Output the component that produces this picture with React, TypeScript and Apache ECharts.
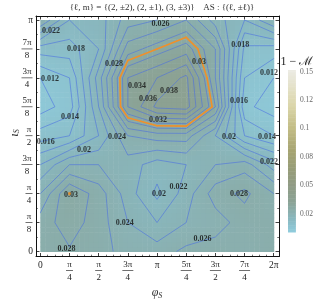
import React, { useEffect, useRef } from "react";
import * as echarts from "echarts";

// 1 - M on a grid: rows iota_S = k*pi/8 (k = 0..8), columns phi_S = j*pi/4 (j = 0..8)
const iota0 = [0.0275, 0.0278, 0.027, 0.025, 0.025, 0.0265, 0.027, 0.026, 0.0275];
const iota1 = [0.027, 0.029, 0.027, 0.024, 0.022, 0.024, 0.025, 0.027, 0.027];
const iota2 = [0.024, 0.03, 0.027, 0.023, 0.0195, 0.023, 0.027, 0.0285, 0.026];
const iota3 = [0.02, 0.024, 0.024, 0.023, 0.021, 0.022, 0.024, 0.025, 0.021];
const iota4 = [0.015, 0.016, 0.02, 0.026, 0.027, 0.027, 0.022, 0.016, 0.014];
const iota5 = [0.011, 0.013, 0.022, 0.034, 0.0385, 0.039, 0.03, 0.0125, 0.011];
const iota6 = [0.012, 0.014, 0.023, 0.034, 0.036, 0.0385, 0.028, 0.014, 0.012];
const iota7 = [0.017, 0.017, 0.02, 0.029, 0.031, 0.033, 0.028, 0.0155, 0.015];
const iota8 = [0.026, 0.02, 0.021, 0.025, 0.026, 0.028, 0.023, 0.02, 0.024];

const contourLevels = [0.012, 0.014, 0.016, 0.018, 0.02, 0.022, 0.024, 0.026, 0.028, 0.03, 0.032, 0.034, 0.036, 0.038];
const highlightLevel = 0.031;

// contour labels (phi in pi/4 units, iota in pi/8 units)
const labelPhi = [0.37, 4.12, 1.22, 2.53, 5.44, 6.85, 0.33, 7.84, 3.31, 3.69, 4.41, 1.02, 4.03, 6.81, 0.19, 1.5, 2.63, 6.47, 7.77, 7.84, 1.05, 4.74, 4.07, 6.81, 2.89, 5.56, 0.9];
const labelIota = [7.63, 7.89, 7.0, 6.5, 6.58, 7.14, 5.98, 6.18, 5.72, 5.29, 5.58, 4.68, 4.57, 5.21, 3.79, 3.51, 3.97, 3.99, 3.99, 3.1, 1.98, 2.26, 1.99, 1.99, 1.0, 0.46, 0.11];
const labelValue = [0.022, 0.026, 0.018, 0.028, 0.03, 0.018, 0.012, 0.012, 0.034, 0.036, 0.038, 0.014, 0.032, 0.016, 0.016, 0.02, 0.024, 0.02, 0.014, 0.022, 0.03, 0.022, 0.02, 0.028, 0.024, 0.026, 0.028];

const markerPoint = [[1, 2]];

const phiTicks = [0, 1, 2, 3, 4, 5, 6, 7, 8];
const phiTickLabels = ["0", "π/4", "π/2", "3π/4", "π", "5π/4", "3π/2", "7π/4", "2π"];
const iotaTicks = [0, 1, 2, 3, 4, 5, 6, 7, 8];
const iotaTickLabels = ["0", "π/8", "π/4", "3π/8", "π/2", "5π/8", "3π/4", "7π/8", "π"];

const colorbarRange = [0.0083, 0.151];
const colorbarTicks = [0.025, 0.05, 0.075, 0.1, 0.125, 0.15];
const colorbarTickLabels = ["0.02", "0.05", "0.08", "0.1", "0.12", "0.15"];

const GRIDV = [iota0, iota1, iota2, iota3, iota4, iota5, iota6, iota7, iota8];
const NR = GRIDV.length;
const NC = GRIDV[0].length;

const SERIF = '"Liberation Serif", "DejaVu Serif", serif';

const colorStops: [number, number[]][] = [
  [0.0083, [144, 205, 222]],
  [0.02, [137, 184, 192]],
  [0.035, [139, 163, 150]],
  [0.05, [144, 155, 132]],
  [0.065, [151, 157, 120]],
  [0.08, [166, 164, 114]],
  [0.1, [194, 188, 133]],
  [0.12, [219, 214, 170]],
  [0.151, [236, 235, 228]],
];

function colorFor(v: number): string {
  if (v <= colorStops[0][0]) return `rgb(${colorStops[0][1].join(",")})`;
  for (let k = 0; k < colorStops.length - 1; k++) {
    const [a, ca] = colorStops[k];
    const [b, cb] = colorStops[k + 1];
    if (v <= b) {
      const t = (v - a) / (b - a);
      const c = ca.map((x, idx) => Math.round(x + t * (cb[idx] - x)));
      return `rgb(${c.join(",")})`;
    }
  }
  return `rgb(${colorStops[colorStops.length - 1][1].join(",")})`;
}

function bilinear(j: number, i: number, fx: number, fy: number): number {
  const a = GRIDV[i][j];
  const b = GRIDV[i][j + 1];
  const c = GRIDV[i + 1][j + 1];
  const d = GRIDV[i + 1][j];
  return a * (1 - fx) * (1 - fy) + b * fx * (1 - fy) + c * fx * fy + d * (1 - fx) * fy;
}

function contourSegments(level: number): number[][] {
  const segs: number[][] = [];
  const cross = (v1: number, v2: number, p1: number[], p2: number[]) => {
    if ((v1 >= level) === (v2 >= level)) return null;
    const t = (level - v1) / (v2 - v1);
    return [p1[0] + t * (p2[0] - p1[0]), p1[1] + t * (p2[1] - p1[1])];
  };
  for (let i = 0; i < NR - 1; i++) {
    for (let j = 0; j < NC - 1; j++) {
      const a = GRIDV[i][j];
      const b = GRIDV[i][j + 1];
      const c = GRIDV[i + 1][j + 1];
      const d = GRIDV[i + 1][j];
      const pB = cross(a, b, [j, i], [j + 1, i]);
      const pR = cross(b, c, [j + 1, i], [j + 1, i + 1]);
      const pT = cross(c, d, [j + 1, i + 1], [j, i + 1]);
      const pL = cross(d, a, [j, i + 1], [j, i]);
      const found = [pB, pR, pT, pL].filter((p) => p) as number[][];
      if (found.length === 2) {
        segs.push([found[0][0], found[0][1], found[1][0], found[1][1]]);
      } else if (found.length === 4) {
        const center = (a + b + c + d) / 4;
        if ((center >= level) === (a >= level)) {
          segs.push([pB![0], pB![1], pR![0], pR![1]]);
          segs.push([pT![0], pT![1], pL![0], pL![1]]);
        } else {
          segs.push([pL![0], pL![1], pB![0], pB![1]]);
          segs.push([pR![0], pR![1], pT![0], pT![1]]);
        }
      }
    }
  }
  return segs;
}

const X_MIN = -0.147;
const X_MAX = 8.18;
const Y_MIN = -0.173;
const Y_MAX = 8.138;

function fracText(s: string): string {
  if (!s.includes("/")) return `{w|${s}}`;
  const [n, d] = s.split("/");
  const sz = n.length > 1 ? "L" : "S";
  return `{n${sz}|${n}}\n{bar${sz}| }\n{d${sz}|${d}}`;
}

const fracRich = {
  w: { fontSize: 9.5, fontFamily: SERIF, color: "#222" },
  nS: { fontSize: 9, lineHeight: 9, width: 8, align: "center", fontFamily: SERIF, color: "#222" },
  dS: { fontSize: 9, lineHeight: 9, width: 8, align: "center", fontFamily: SERIF, color: "#222" },
  barS: { fontSize: 1, width: 7, height: 0.7, lineHeight: 4, backgroundColor: "#333", align: "center" },
  nL: { fontSize: 9, lineHeight: 9, width: 12, align: "center", fontFamily: SERIF, color: "#222" },
  dL: { fontSize: 9, lineHeight: 9, width: 12, align: "center", fontFamily: SERIF, color: "#222" },
  barL: { fontSize: 1, width: 11, height: 0.7, lineHeight: 4, backgroundColor: "#333", align: "center" },
};

function minorList(step: number): number[] {
  const out: number[] = [];
  for (let v = 0; v <= 8 + 1e-9; v += step) {
    if (Math.abs(v - Math.round(v)) > 1e-9) out.push(Number(v.toFixed(4)));
  }
  return out;
}

export default function App() {
  const ref = useRef<HTMLDivElement>(null);

  useEffect(() => {
    if (!ref.current) return;
    const chart = echarts.init(ref.current, undefined, { renderer: "svg" });

    const cells: number[][] = [];
    for (let i = 0; i < NR - 1; i++) for (let j = 0; j < NC - 1; j++) cells.push([j, i]);

    const cbSlices = 120;
    const cbData: number[][] = [];
    for (let k = 0; k < cbSlices; k++) cbData.push([0.5, colorbarRange[0] + ((k + 0.5) * (colorbarRange[1] - colorbarRange[0])) / cbSlices]);

    const frameLine = { show: true, onZero: false, lineStyle: { color: "#111", width: 1 } };
    const majorTick = (vals: number[]) => ({ show: true, inside: true, length: 3.5, customValues: vals, lineStyle: { color: "#111", width: 0.8 } });
    const minorTick = (vals: number[]) => ({ show: true, inside: true, length: 1.8, customValues: vals, lineStyle: { color: "#111", width: 0.6 } });

    const phiMinor = minorList(0.25);
    const iotaMinor = minorList(0.5);

    const option: any = {
      animation: false,
      grid: [
        { left: 36, top: 16, width: 243, height: 240.5 },
        { left: 36, top: 16, width: 243, height: 240.5 },
        { left: 288, top: 70, width: 8, height: 162 },
      ],
      xAxis: [
        {
          gridIndex: 0, type: "value", min: X_MIN, max: X_MAX, position: "bottom",
          axisLine: frameLine, axisTick: majorTick(phiTicks), splitLine: { show: false },
          axisLabel: {
            customValues: phiTicks, margin: 3, rich: fracRich,
            formatter: (v: number) => fracText(phiTickLabels[phiTicks.indexOf(Math.round(v))] ?? ""),
          },
        },
        {
          gridIndex: 0, type: "value", min: X_MIN, max: X_MAX, position: "top",
          axisLine: frameLine, axisTick: majorTick(phiTicks), splitLine: { show: false }, axisLabel: { show: false },
        },
        {
          gridIndex: 1, type: "value", min: X_MIN, max: X_MAX, position: "bottom",
          axisLine: { show: false, onZero: false }, axisTick: minorTick(phiMinor), splitLine: { show: false }, axisLabel: { show: false },
        },
        {
          gridIndex: 1, type: "value", min: X_MIN, max: X_MAX, position: "top",
          axisLine: { show: false, onZero: false }, axisTick: minorTick(phiMinor), splitLine: { show: false }, axisLabel: { show: false },
        },
        { gridIndex: 2, type: "value", min: 0, max: 1, show: false },
      ],
      yAxis: [
        {
          gridIndex: 0, type: "value", min: Y_MIN, max: Y_MAX, position: "left",
          axisLine: frameLine, axisTick: majorTick(iotaTicks), splitLine: { show: false },
          axisLabel: {
            customValues: iotaTicks, margin: 3, rich: fracRich,
            formatter: (v: number) => fracText(iotaTickLabels[iotaTicks.indexOf(Math.round(v))] ?? ""),
          },
        },
        {
          gridIndex: 0, type: "value", min: Y_MIN, max: Y_MAX, position: "right",
          axisLine: frameLine, axisTick: majorTick(iotaTicks), splitLine: { show: false }, axisLabel: { show: false },
        },
        {
          gridIndex: 1, type: "value", min: Y_MIN, max: Y_MAX, position: "left",
          axisLine: { show: false, onZero: false }, axisTick: minorTick(iotaMinor), splitLine: { show: false }, axisLabel: { show: false },
        },
        {
          gridIndex: 1, type: "value", min: Y_MIN, max: Y_MAX, position: "right",
          axisLine: { show: false, onZero: false }, axisTick: minorTick(iotaMinor), splitLine: { show: false }, axisLabel: { show: false },
        },
        {
          gridIndex: 2, type: "value", min: colorbarRange[0], max: colorbarRange[1], position: "right",
          axisLine: { show: false }, axisTick: { show: false }, splitLine: { show: false },
          axisLabel: {
            customValues: colorbarTicks, margin: 4, fontSize: 7.5, fontFamily: SERIF, color: "#666",
            formatter: (v: number) => {
              const k = colorbarTicks.findIndex((t) => Math.abs(t - v) < 1e-9);
              return k >= 0 ? colorbarTickLabels[k] : "";
            },
          },
        },
      ],
      series: [
        {
          type: "custom", xAxisIndex: 0, yAxisIndex: 0, z: 1, silent: true,
          data: cells,
          renderItem: (params: any, api: any) => {
            const j = api.value(0);
            const i = api.value(1);
            const N = 6;
            const children: any[] = [];
            for (let s = 0; s < N; s++) {
              for (let t = 0; t < N; t++) {
                const v = bilinear(j, i, (s + 0.5) / N, (t + 0.5) / N);
                const p0 = api.coord([j + s / N, i + t / N]);
                const p1 = api.coord([j + (s + 1) / N, i + (t + 1) / N]);
                children.push({
                  type: "rect",
                  shape: { x: p0[0], y: p1[1], width: p1[0] - p0[0] + 0.5, height: p0[1] - p1[1] + 0.5 },
                  style: { fill: colorFor(v) },
                });
              }
            }
            return { type: "group", children };
          },
        },
        {
          type: "custom", xAxisIndex: 0, yAxisIndex: 0, z: 2, silent: true,
          data: contourLevels.map((l) => [l, l]),
          renderItem: (params: any, api: any) => {
            const level = contourLevels[params.dataIndex];
            const segs = contourSegments(level);
            return {
              type: "group",
              children: segs.map((sg) => {
                const a = api.coord([sg[0], sg[1]]);
                const b = api.coord([sg[2], sg[3]]);
                return {
                  type: "line",
                  shape: { x1: a[0], y1: a[1], x2: b[0], y2: b[1] },
                  style: { stroke: "rgba(72,108,226,0.7)", lineWidth: 0.8 },
                };
              }),
            };
          },
        },
        {
          type: "custom", xAxisIndex: 0, yAxisIndex: 0, z: 3, silent: true,
          data: [[highlightLevel, highlightLevel]],
          renderItem: (params: any, api: any) => {
            const segs = contourSegments(highlightLevel);
            return {
              type: "group",
              children: segs.map((sg) => {
                const a = api.coord([sg[0], sg[1]]);
                const b = api.coord([sg[2], sg[3]]);
                return {
                  type: "line",
                  shape: { x1: a[0], y1: a[1], x2: b[0], y2: b[1] },
                  style: { stroke: "#f0902a", lineWidth: 1.6, lineCap: "round" },
                };
              }),
            };
          },
        },
        {
          type: "scatter", xAxisIndex: 0, yAxisIndex: 0, z: 4, silent: true,
          symbolSize: 1, itemStyle: { color: "rgba(0,0,0,0)" },
          data: labelPhi.map((x, k) => [x, labelIota[k], labelValue[k]]),
          label: {
            show: true, position: "inside", fontSize: 8, fontWeight: "bold", fontFamily: SERIF, color: "#111",
            formatter: (p: any) => String(p.value[2]),
          },
        },
        {
          type: "scatter", xAxisIndex: 0, yAxisIndex: 0, z: 5, silent: true,
          symbolSize: 3, itemStyle: { color: "#f08a1c" },
          data: markerPoint,
        },
        {
          type: "custom", xAxisIndex: 4, yAxisIndex: 4, z: 1, silent: true,
          data: cbData,
          renderItem: (params: any, api: any) => {
            const k = params.dataIndex;
            const step = (colorbarRange[1] - colorbarRange[0]) / cbSlices;
            const v0 = colorbarRange[0] + k * step;
            const v1 = v0 + step;
            const p0 = api.coord([0, v0]);
            const p1 = api.coord([1, v1]);
            return {
              type: "rect",
              shape: { x: p0[0], y: p1[1], width: p1[0] - p0[0], height: p0[1] - p1[1] + 0.5 },
              style: { fill: colorFor((v0 + v1) / 2) },
            };
          },
        },
      ],
      graphic: [
        {
          type: "text", x: 162, y: 7,
          style: {
            text: "{ℓ, m} = {(2, ±2), (2, ±1), (3, ±3)}    AS : {(ℓ, ±ℓ)}",
            fontSize: 9, fontFamily: SERIF, fill: "#333", align: "center", verticalAlign: "middle",
          },
        },
        {
          type: "text", x: 157, y: 292,
          style: {
            text: "{a|φ}{s|S}",
            align: "center", verticalAlign: "middle",
            rich: {
              a: { fontSize: 12, fontStyle: "italic", fontFamily: SERIF, fill: "#333", lineHeight: 14 },
              s: { fontSize: 8, fontStyle: "italic", fontFamily: SERIF, fill: "#333", lineHeight: 14, verticalAlign: "bottom", padding: [5, 0, 0, 0] },
            },
          },
        },
        {
          type: "text", x: 13, y: 133, rotation: Math.PI / 2,
          style: {
            text: "{a|ι}{s|S}",
            align: "center", verticalAlign: "middle",
            rich: {
              a: { fontSize: 13, fontStyle: "italic", fontFamily: SERIF, fill: "#333", lineHeight: 14 },
              s: { fontSize: 8, fontStyle: "italic", fontFamily: SERIF, fill: "#333", lineHeight: 14, verticalAlign: "bottom", padding: [5, 0, 0, 0] },
            },
          },
        },
        {
          type: "text", x: 297, y: 61,
          style: { text: "1 − ℳ", fontSize: 12, fontFamily: SERIF, fill: "#222", align: "center", verticalAlign: "middle" },
        },
      ],
    };

    chart.setOption(option);
    return () => chart.dispose();
  }, []);

  return <div ref={ref} style={{ position: "fixed", left: 0, top: 0, width: 316, height: 301 }} />;
}
